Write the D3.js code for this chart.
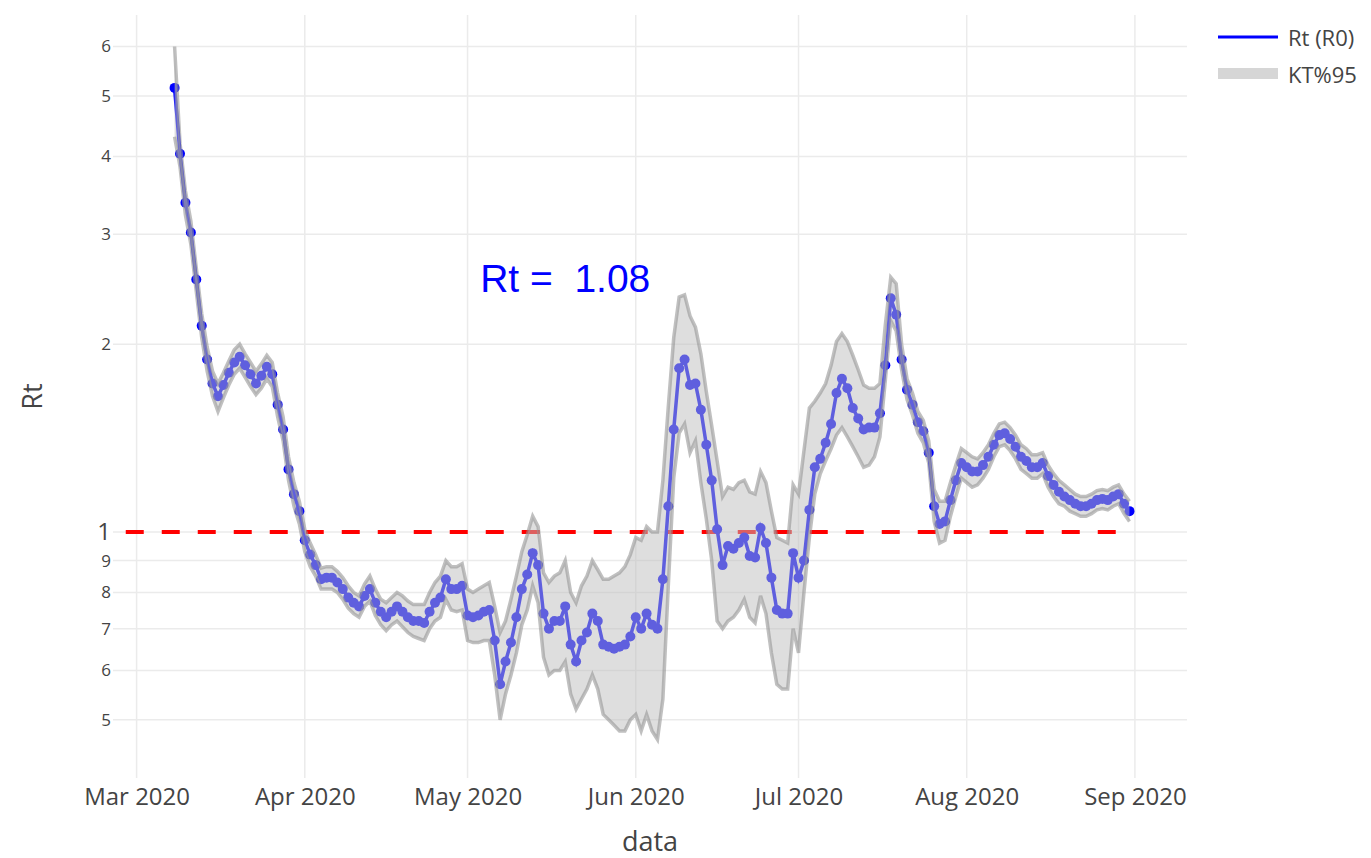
<!DOCTYPE html>
<html>
<head>
<meta charset="utf-8">
<script src="https://cdn.jsdelivr.net/npm/d3@7"></script>
<style>
  body { margin: 0; background: #fff; }
  text { font-family: 'Open Sans', sans-serif; fill: #444; }
</style>
</head>
<body>
<script>
// daily values, 8 Mar 2020 .. 31 Aug 2020
const startDay = '2020-03-08'

const rt = [
  // Mar 8-31
  5.15, 4.04, 3.37, 3.02, 2.54, 2.14, 1.89, 1.73, 1.65, 1.72, 1.80, 1.87, 1.91, 1.85, 1.79, 1.73, 1.78, 1.84, 1.79, 1.60, 1.46, 1.26, 1.15, 1.08,
  // Apr
  0.97, 0.92, 0.885, 0.84, 0.845, 0.845, 0.83, 0.81, 0.785, 0.77, 0.76, 0.79, 0.81, 0.77, 0.745, 0.73, 0.745, 0.76, 0.745, 0.73,
  0.72, 0.72, 0.715, 0.745, 0.77, 0.785, 0.84, 0.81, 0.81, 0.82,
  // May
  0.735, 0.73, 0.735, 0.745, 0.75, 0.67, 0.57, 0.62, 0.665, 0.73, 0.81, 0.855, 0.925, 0.885, 0.74, 0.70, 0.72, 0.72, 0.76, 0.66,
  0.62, 0.67, 0.69, 0.74, 0.72, 0.66, 0.655, 0.65, 0.655, 0.66, 0.68,
  // Jun
  0.73, 0.70, 0.74, 0.71, 0.70, 0.84, 1.10, 1.46, 1.83, 1.89, 1.72, 1.73, 1.57, 1.38, 1.21, 1.01, 0.885, 0.95, 0.94, 0.96,
  0.98, 0.915, 0.91, 1.015, 0.96, 0.845, 0.75, 0.74, 0.74, 0.925,
  // Jul
  0.845, 0.90, 1.085, 1.27, 1.31, 1.39, 1.49, 1.67, 1.76, 1.70, 1.58, 1.52, 1.46, 1.47, 1.47, 1.55, 1.85, 2.37, 2.23, 1.89,
  1.69, 1.60, 1.50, 1.45, 1.34, 1.10, 1.03, 1.04, 1.125, 1.21, 1.29,
  // Aug
  1.27, 1.25, 1.25, 1.28, 1.32, 1.38, 1.43, 1.44, 1.41, 1.37, 1.32, 1.30, 1.27, 1.27, 1.29, 1.23, 1.19, 1.16, 1.14, 1.125,
  1.11, 1.10, 1.10, 1.11, 1.125, 1.13, 1.125, 1.14, 1.15, 1.11, 1.08
]

const ciLow = [
  4.30, 3.85, 3.22, 2.89, 2.43, 2.05, 1.81, 1.65, 1.56, 1.64, 1.72, 1.79, 1.83, 1.77, 1.71, 1.66, 1.70, 1.76, 1.71, 1.53, 1.40, 1.21, 1.10, 1.03,
  0.93, 0.88, 0.85, 0.81, 0.81, 0.81, 0.80, 0.78, 0.755, 0.74, 0.73, 0.76, 0.775, 0.735, 0.71, 0.695, 0.71, 0.72, 0.705, 0.69,
  0.68, 0.675, 0.67, 0.70, 0.72, 0.73, 0.78, 0.75, 0.745, 0.75,
  0.67, 0.665, 0.665, 0.67, 0.67, 0.59, 0.50, 0.55, 0.59, 0.64, 0.71, 0.75, 0.82, 0.77, 0.63, 0.59, 0.60, 0.60, 0.62, 0.55,
  0.52, 0.54, 0.56, 0.59, 0.56, 0.51, 0.50, 0.49, 0.48, 0.48, 0.50,
  0.51, 0.48, 0.51, 0.48, 0.465, 0.54, 0.82, 1.22, 1.44, 1.49, 1.34, 1.40, 1.20, 1.05, 0.90, 0.72, 0.70, 0.72, 0.73, 0.75,
  0.78, 0.73, 0.715, 0.79, 0.74, 0.64, 0.57, 0.56, 0.56, 0.70,
  0.64, 0.80, 0.98, 1.15, 1.24, 1.30, 1.36, 1.43, 1.47, 1.42, 1.37, 1.32, 1.27, 1.28, 1.32, 1.42, 1.75, 2.18, 2.10, 1.82,
  1.63, 1.54, 1.44, 1.39, 1.29, 1.04, 0.96, 0.97, 1.06, 1.14, 1.22,
  1.20, 1.18, 1.19, 1.22, 1.26, 1.32, 1.37, 1.38, 1.35, 1.31, 1.26, 1.24, 1.22, 1.22, 1.24, 1.18, 1.14, 1.11, 1.10, 1.08,
  1.07, 1.06, 1.06, 1.07, 1.085, 1.09, 1.085, 1.10, 1.11, 1.07, 1.04
]

const ciHigh = [
  6.00, 4.20, 3.52, 3.15, 2.65, 2.24, 1.98, 1.81, 1.73, 1.80, 1.88, 1.96, 2.00, 1.93, 1.87, 1.81, 1.86, 1.92, 1.87, 1.67, 1.53, 1.32, 1.20, 1.12,
  1.01, 0.96, 0.92, 0.875, 0.88, 0.88, 0.865, 0.845, 0.82, 0.80, 0.79, 0.825, 0.85, 0.81, 0.78, 0.77, 0.785, 0.80, 0.79, 0.775,
  0.765, 0.765, 0.765, 0.80, 0.83, 0.85, 0.90, 0.88, 0.88, 0.89,
  0.81, 0.80, 0.81, 0.82, 0.83, 0.76, 0.69, 0.72, 0.78, 0.85, 0.93, 0.99, 1.06, 1.02, 0.86, 0.83, 0.85, 0.86, 0.90, 0.80,
  0.77, 0.82, 0.85, 0.90, 0.87, 0.84, 0.84, 0.85, 0.86, 0.88, 0.92,
  0.98, 0.97, 1.02, 1.00, 1.00, 1.21, 1.59, 2.05, 2.38, 2.40, 2.22, 2.13, 1.93, 1.68, 1.48, 1.30, 1.14, 1.18, 1.17, 1.20,
  1.21, 1.16, 1.15, 1.25, 1.20, 1.08, 0.98, 0.97, 0.96, 1.19,
  1.15, 1.35, 1.58, 1.62, 1.67, 1.73, 1.85, 2.02, 2.08, 2.02, 1.92, 1.82, 1.72, 1.70, 1.70, 1.73, 2.15, 2.56, 2.50, 2.00,
  1.76, 1.67, 1.56, 1.51, 1.40, 1.17, 1.12, 1.12, 1.20, 1.28, 1.36,
  1.34, 1.32, 1.31, 1.34, 1.38, 1.44, 1.49, 1.50, 1.47, 1.43, 1.38, 1.36, 1.33, 1.33, 1.34, 1.28, 1.24, 1.21, 1.19, 1.17,
  1.15, 1.14, 1.14, 1.15, 1.165, 1.17, 1.165, 1.18, 1.19, 1.15, 1.12
]

const yTicks = [0.5, 0.6, 0.7, 0.8, 0.9, 1, 2, 3, 4, 5, 6]
const yTickLabels = ['5', '6', '7', '8', '9', '1', '2', '3', '4', '5', '6']
const refLine = { value: 1, from: '2020-02-28', to: '2020-08-29' }
const note = { text: 'Rt =  1.08', date: '2020-05-19', value: 2.55 }
const legendNames = ['Rt (R0)', 'KT%95']

const W = 1371
const H = 858
const margin = ({ top: 15, right: 184, bottom: 80, left: 113 })

const day0 = d3.utcParse('%Y-%m-%d')(startDay)
const data = rt.map((v, i) => ({ date: d3.utcDay.offset(day0, i), rt: v, lo: ciLow[i], hi: ciHigh[i] }))

const svg = d3.select('body').append('svg')
  .attr('width', W)
  .attr('height', H)

let x = d3.scaleUtc()
  .domain([new Date(Date.UTC(2020, 1, 25, 15, 36)), new Date(Date.UTC(2020, 8, 10, 14, 24))])
  .range([margin.left, W - margin.right])

let y = d3.scaleLog()
  .domain([0.4034, 6.74])
  .range([H - margin.bottom, margin.top])

// grid
svg.append('g')
  .selectAll('line')
  .data(yTicks)
  .enter().append('line')
  .attr('x1', margin.left)
  .attr('x2', W - margin.right)
  .attr('y1', d => y(d))
  .attr('y2', d => y(d))
  .attr('stroke', '#ebebeb')
  .attr('stroke-width', 1.5)

const months = d3.utcMonth.range(new Date(Date.UTC(2020, 2, 1)), new Date(Date.UTC(2020, 8, 2)))

svg.append('g')
  .selectAll('line')
  .data(months)
  .enter().append('line')
  .attr('x1', d => x(d))
  .attr('x2', d => x(d))
  .attr('y1', margin.top)
  .attr('y2', H - margin.bottom)
  .attr('stroke', '#ebebeb')
  .attr('stroke-width', 1.5)

// axes (labels only, plotly style)
svg.append('g')
  .attr('transform', 'translate(0,' + (H - margin.bottom) + ')')
  .call(d3.axisBottom(x).tickValues(months).tickFormat(d3.utcFormat('%b %Y')).tickSize(0).tickPadding(10))
  .call(g => g.select('.domain').remove())
  .selectAll('text')
  .style('font-size', '24px')
  .attr('fill', '#444')

svg.append('g')
  .attr('transform', 'translate(' + (margin.left - 2) + ',0)')
  .call(d3.axisLeft(y).tickValues(yTicks).tickFormat((d, i) => yTickLabels[i]).tickSize(0).tickPadding(0))
  .call(g => g.select('.domain').remove())
  .selectAll('text')
  .style('font-size', d => d === 1 ? '24px' : '17px')
  .attr('fill', '#444')

// reference line at Rt = 1
const parseDay = d3.utcParse('%Y-%m-%d')
svg.append('line')
  .attr('x1', x(parseDay(refLine.from)))
  .attr('x2', x(parseDay(refLine.to)))
  .attr('y1', y(refLine.value))
  .attr('y2', y(refLine.value))
  .attr('stroke', '#ff0000')
  .attr('stroke-width', 4)
  .attr('stroke-dasharray', '18,18')

// Rt line + markers
const line = d3.line().x(d => x(d.date)).y(d => y(d.rt))

svg.append('path')
  .datum(data)
  .attr('d', line)
  .attr('fill', 'none')
  .attr('stroke', '#0000ff')
  .attr('stroke-width', 3.5)

svg.append('g')
  .selectAll('circle')
  .data(data)
  .enter().append('circle')
  .attr('cx', d => x(d.date))
  .attr('cy', d => y(d.rt))
  .attr('r', 5)
  .attr('fill', '#0000ff')

// confidence band on top
const area = d3.area().x(d => x(d.date)).y0(d => y(d.lo)).y1(d => y(d.hi))

svg.append('path')
  .datum(data)
  .attr('d', area)
  .attr('fill', 'rgba(190,190,190,0.5)')

svg.append('path')
  .datum(data)
  .attr('d', d3.line().x(d => x(d.date)).y(d => y(d.hi)))
  .attr('fill', 'none')
  .attr('stroke', 'rgba(150,150,150,0.6)')
  .attr('stroke-width', 3.5)

svg.append('path')
  .datum(data)
  .attr('d', d3.line().x(d => x(d.date)).y(d => y(d.lo)))
  .attr('fill', 'none')
  .attr('stroke', 'rgba(150,150,150,0.6)')
  .attr('stroke-width', 3.5)

// annotation
svg.append('text')
  .attr('x', x(parseDay(note.date)))
  .attr('y', y(note.value))
  .attr('text-anchor', 'middle')
  .attr('dominant-baseline', 'central')
  .style('white-space', 'pre')
  .style('font-family', "'Liberation Sans', Arial, sans-serif")
  .style('font-size', '39px')
  .style('fill', '#0000ff')
  .text(note.text)

// axis titles
svg.append('text')
  .attr('x', (margin.left + W - margin.right) / 2)
  .attr('y', 840)
  .attr('text-anchor', 'middle')
  .attr('dominant-baseline', 'central')
  .style('font-size', '27px')
  .text('data')

svg.append('text')
  .attr('transform', 'translate(31,' + ((margin.top + H - margin.bottom) / 2) + ') rotate(-90)')
  .attr('text-anchor', 'middle')
  .attr('dominant-baseline', 'central')
  .style('font-size', '27px')
  .text('Rt')

// legend
const lg = svg.append('g').attr('transform', 'translate(1218,0)')
lg.append('line')
  .attr('x1', 0).attr('x2', 60)
  .attr('y1', 37).attr('y2', 37)
  .attr('stroke', '#0000ff')
  .attr('stroke-width', 3)
lg.append('rect')
  .attr('x', 0).attr('y', 68)
  .attr('width', 60).attr('height', 11)
  .attr('fill', '#d6d6d6')
lg.selectAll('text.lg')
  .data(legendNames)
  .enter().append('text')
  .attr('class', 'lg')
  .attr('x', 70)
  .attr('y', (d, i) => 37 + i * 36.5)
  .attr('dominant-baseline', 'central')
  .style('font-size', '22px')
  .text(d => d)
</script>
</body>
</html>
